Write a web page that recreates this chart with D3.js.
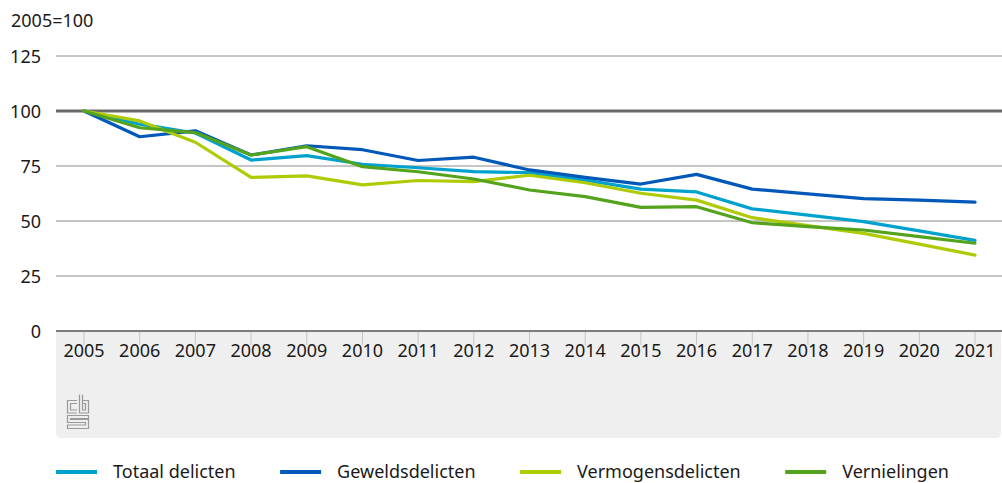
<!DOCTYPE html>
<html>
<head>
<meta charset="utf-8">
<script src="https://cdn.jsdelivr.net/npm/d3@7"></script>
<style>
  body { margin: 0; background: #fff; }
  svg text { font-family: "Noto Sans", sans-serif; fill: #1a1a1a; }
</style>
</head>
<body>
<div id="grafiek"></div>
<script>
const jaren = d3.range(2005, 2022);
const yTicks = [0, 25, 50, 75, 100, 125];

const totaal = [100, 94, 90, 77.7, 79.7, 75.8, 74.2, 72.4, 72, 68.6, 64.5, 63.2, 55.5, 52.7, 49.7, 45.5, 41.2];
const geweld = [100, 88.3, 91, 80, 84.2, 82.4, 77.5, 79, 73.2, 69.8, 66.8, 71.2, 64.5, 62.3, 60.2, 59.5, 58.6];
const vermogen = [100, 95.5, 85.8, 69.8, 70.5, 66.4, 68.4, 67.9, 70.8, 67.4, 62.6, 59.5, 51.5, 47.9, 44.4, 39.5, 34.5];
const vernieling = [100, 92.4, 90.2, 80, 83.8, 74.7, 72.4, 69.1, 64.1, 61.1, 56.2, 56.5, 49.2, 47.4, 45.9, 42.9, 39.9];

const reeksen = [
  { naam: "Totaal delicten", waarden: totaal, kleur: "#00a1cd" },
  { naam: "Geweldsdelicten", waarden: geweld, kleur: "#0058b8" },
  { naam: "Vermogensdelicten", waarden: vermogen, kleur: "#afcb05" },
  { naam: "Vernielingen", waarden: vernieling, kleur: "#53a31d" }
];

const width = 1002, height = 483;
const links = 56, rechts = 1001;

const svg = d3.select("#grafiek").append("svg")
  .attr("width", width)
  .attr("height", height);

const x = d3.scalePoint().domain(jaren).range([84, 975]);
const y = d3.scaleLinear().domain([0, 125]).range([331, 56]);

// grijze band onder de x-as, afgeronde hoeken onderaan
svg.append("path")
  .attr("d", `M${links},331 H${rechts} V433 Q${rechts},438 ${rechts - 5},438 H${links + 5} Q${links},438 ${links},433 Z`)
  .attr("fill", "#efefef");

// rasterlijnen
svg.append("g").selectAll("line")
  .data(yTicks.filter(d => d !== 0 && d !== 100))
  .enter().append("line")
  .attr("x1", links).attr("x2", 1002)
  .attr("y1", d => y(d)).attr("y2", d => y(d))
  .attr("stroke", "#8c8c8c")
  .attr("stroke-width", 1);

svg.append("line")
  .attr("x1", links).attr("x2", 1002)
  .attr("y1", y(100)).attr("y2", y(100))
  .attr("stroke", "#6a6a6a")
  .attr("stroke-width", 3);

// y-as labels
svg.append("g").selectAll("text")
  .data(yTicks)
  .enter().append("text")
  .attr("x", 41)
  .attr("y", d => y(d) + 7)
  .attr("text-anchor", "end")
  .attr("font-size", 18)
  .text(d => d);

svg.append("text")
  .attr("x", 11).attr("y", 27)
  .attr("font-size", 18)
  .text("2005=100");

// x-as
svg.append("g").selectAll("line")
  .data(jaren)
  .enter().append("line")
  .attr("x1", d => x(d)).attr("x2", d => x(d))
  .attr("y1", 331).attr("y2", 345)
  .attr("stroke", "#c4c4c4")
  .attr("stroke-width", 1);

svg.append("line")
  .attr("x1", links).attr("x2", 1002)
  .attr("y1", 331).attr("y2", 331)
  .attr("stroke", "#7d7d7d")
  .attr("stroke-width", 2);

svg.append("g").selectAll("text")
  .data(jaren)
  .enter().append("text")
  .attr("x", d => x(d))
  .attr("y", 357)
  .attr("text-anchor", "middle")
  .attr("font-size", 18)
  .text(d => d);

// lijnen
const lijn = d3.line()
  .x((d, i) => x(jaren[i]))
  .y(d => y(d));

svg.append("g").selectAll("path")
  .data(reeksen)
  .enter().append("path")
  .attr("d", d => lijn(d.waarden))
  .attr("fill", "none")
  .attr("stroke", d => d.kleur)
  .attr("stroke-width", 3.2)
  .attr("stroke-linejoin", "round")
  .attr("stroke-linecap", "round");

// cbs logo
const logo = svg.append("g")
  .attr("transform", "translate(67,394)")
  .attr("fill", "none")
  .attr("stroke", "#9a9a9a")
  .attr("stroke-width", 1.2);
logo.append("path").attr("d", "M10,6.5 H0.5 V19 H10 M10,9.5 H3.5 V16 H10");
logo.append("path").attr("d", "M12.5,0.5 V19 H21.5 V6.5 H15.5 M15.5,0.5 V16 H18.5 V9.5 H15.5");
logo.append("path").attr("d", "M21.5,21.5 H0.5 V28.5 H18.5 V31 H0.5 V34.5 H21.5 V25.5 H3.5 V24.5 H21.5 Z");

// legenda
const legenda = svg.append("g");
let lx = links;
reeksen.forEach(r => {
  legenda.append("line")
    .attr("x1", lx).attr("x2", lx + 41)
    .attr("y1", 472).attr("y2", 472)
    .attr("stroke", r.kleur)
    .attr("stroke-width", 4);
  const t = legenda.append("text")
    .attr("x", lx + 57)
    .attr("y", 478)
    .attr("font-size", 18)
    .text(r.naam);
  lx += 57 + t.node().getComputedTextLength() + 44.5;
});
</script>
</body>
</html>
